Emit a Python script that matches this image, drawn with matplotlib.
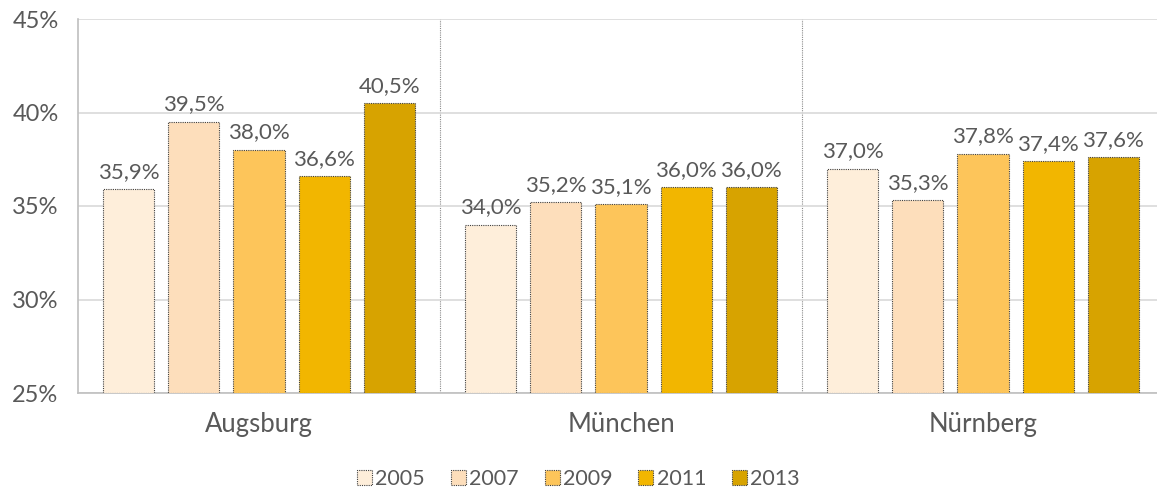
import matplotlib.pyplot as plt
import numpy as np

plt.rcParams['font.family'] = ['Lato', 'DejaVu Sans']

cities = ['Augsburg', 'München', 'Nürnberg']
years = ['2005', '2007', '2009', '2011', '2013']
values = {
    '2005': [35.9, 34.0, 37.0],
    '2007': [39.5, 35.2, 35.3],
    '2009': [38.0, 35.1, 37.8],
    '2011': [36.6, 36.0, 37.4],
    '2013': [40.5, 36.0, 37.6],
}
colors = ['#FEEEDA', '#FDDEBB', '#FDC55A', '#F2B600', '#D7A300']
txt = '#595959'

fig = plt.figure(figsize=(11.57, 4.93), dpi=100)
ax = fig.add_axes([78 / 1157, 100 / 493, 1086 / 1157, 374 / 493])

x = np.arange(len(cities))
step = 0.18
width = 0.141
for i, yr in enumerate(years):
    pos = x + (i - 2) * step
    ax.bar(pos, np.array(values[yr]) - 25, bottom=25, width=width,
           color=colors[i], edgecolor='#404040', linewidth=0.8,
           linestyle=(0, (1, 1)), label=yr, zorder=3)
    for px, v in zip(pos, values[yr]):
        ax.text(px, v + 0.4, f'{v:.1f}%'.replace('.', ','), ha='center',
                va='bottom', fontsize=16, color=txt)

ax.set_xlim(-0.5, 2.5)
ax.set_ylim(25, 45)
ax.set_yticks([25, 30, 35, 40, 45])
ax.set_yticklabels(['25%', '30%', '35%', '40%', '45%'])
ax.set_xticks(x)
ax.set_xticklabels(cities)
ax.tick_params(axis='y', length=0, labelsize=17, labelcolor=txt, pad=14)
ax.tick_params(axis='x', length=0, labelsize=18.5, labelcolor=txt, pad=14)
ax.grid(axis='y', color='#D9D9D9', linewidth=1.2, zorder=0)
for b in [0.5, 1.5]:
    ax.axvline(b, color='#8C8C8C', linewidth=0.8, linestyle=(0, (1, 1)), zorder=1)

for s in ['top', 'right']:
    ax.spines[s].set_visible(False)
ax.spines['left'].set_color('#BFBFBF')
ax.spines['bottom'].set_color('#BFBFBF')
ax.spines['left'].set_linewidth(1.2)
ax.spines['bottom'].set_linewidth(1.2)

fig.legend(loc='center', bbox_to_anchor=(0.5, 14 / 493), ncol=5, frameon=False,
           fontsize=15.5, labelcolor=txt, handlelength=0.7, handleheight=0.7,
           handletextpad=0.15, columnspacing=1.2)

fig.savefig('out.png', dpi=100)
